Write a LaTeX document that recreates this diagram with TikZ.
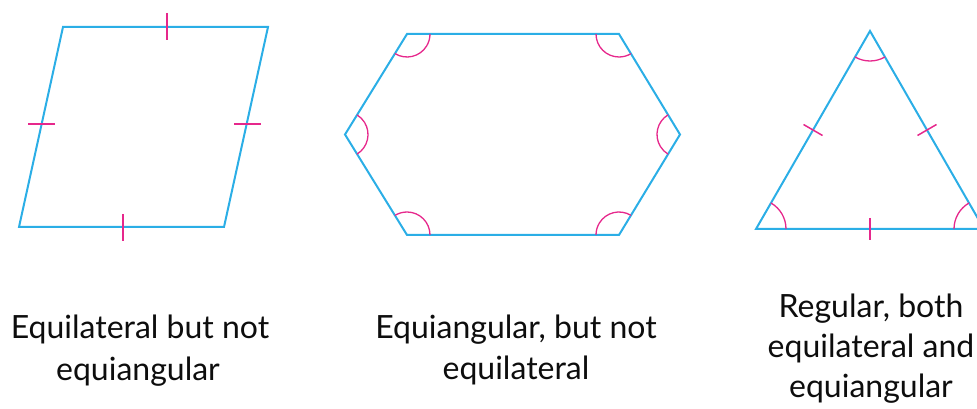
\documentclass[tikz,border=0pt]{standalone}
\usepackage{fontspec}
\setmainfont{Lato}
\definecolor{edgeblue}{RGB}{43,174,230}
\definecolor{markpink}{RGB}{230,40,140}
\tikzset{
  polyline/.style={draw=edgeblue, line width=2pt, line join=miter},
  tickmark/.style={draw=markpink, line width=1.5pt},
  anglemark/.style={draw=markpink, line width=1.3pt},
  lbl/.style={anchor=base, inner sep=0pt, font=\fontsize{32}{38}\selectfont, text=black!95}
}
\begin{document}
\begin{tikzpicture}[x=1pt,y=1pt]
\clip (0,0) rectangle (977,409);
\useasboundingbox (0,0) rectangle (977,409);
% parallelogram
\coordinate (p1) at (63,382);
\coordinate (p2) at (268,382);
\coordinate (p3) at (224,182);
\coordinate (p4) at (19,182);
\draw[polyline] (p1) -- (p2) -- (p3) -- (p4) -- cycle;
\coordinate (t1a) at (167,396); \coordinate (t1b) at (167,369);
\coordinate (t2a) at (123,195); \coordinate (t2b) at (123,168);
\coordinate (t3a) at (28,285);  \coordinate (t3b) at (55,285);
\coordinate (t4a) at (234,285); \coordinate (t4b) at (261,285);
\draw[tickmark] (t1a) -- (t1b);
\draw[tickmark] (t2a) -- (t2b);
\draw[tickmark] (t3a) -- (t3b);
\draw[tickmark] (t4a) -- (t4b);
% hexagon
\coordinate (hA) at (407,375);
\coordinate (hB) at (619,375);
\coordinate (hC) at (680,274.5);
\coordinate (hD) at (619,174);
\coordinate (hE) at (407,174);
\coordinate (hF) at (345,274.5);
\draw[polyline] (hA) -- (hB) -- (hC) -- (hD) -- (hE) -- (hF) -- cycle;
\draw[anglemark] (hA) ++(-121.7:23pt) arc[start angle=-121.7, end angle=0, radius=23pt];
\draw[anglemark] (hB) ++(180:23pt) arc[start angle=180, end angle=301.3, radius=23pt];
\draw[anglemark] (hC) ++(121.3:23pt) arc[start angle=121.3, end angle=238.7, radius=23pt];
\draw[anglemark] (hD) ++(58.7:23pt) arc[start angle=58.7, end angle=180, radius=23pt];
\draw[anglemark] (hE) ++(0:23pt) arc[start angle=0, end angle=121.7, radius=23pt];
\draw[anglemark] (hF) ++(-58.3:23pt) arc[start angle=-58.3, end angle=58.3, radius=23pt];
% triangle
\coordinate (tA) at (870,378);
\coordinate (tB) at (756,180);
\coordinate (tC) at (984,180);
\draw[polyline] (tA) -- (tB) -- (tC) -- cycle;
\draw[anglemark] (tB) ++(0:30pt) arc[start angle=0, end angle=60, radius=30pt];
\draw[anglemark] (tC) ++(120:30pt) arc[start angle=120, end angle=180, radius=30pt];
\draw[anglemark] (tA) ++(240:30pt) arc[start angle=240, end angle=300, radius=30pt];
\coordinate (m1a) at (803.5,284.5); \coordinate (m1b) at (822.5,273.5);
\coordinate (m2a) at (917.5,273.5); \coordinate (m2b) at (936.5,284.5);
\coordinate (m3a) at (870,191);     \coordinate (m3b) at (870,169);
\draw[tickmark] (m1a) -- (m1b);
\draw[tickmark] (m2a) -- (m2b);
\draw[tickmark] (m3a) -- (m3b);
% labels
\node[lbl] (l1a) at (140,70) {Equilateral but not};
\node[lbl] (l1b) at (138,28) {equiangular};
\node[lbl] (l2a) at (516,70) {Equiangular, but not};
\node[lbl] (l2b) at (516,29) {equilateral};
\node[lbl] (l3a) at (871,91) {Regular, both};
\node[lbl] (l3b) at (871,51) {equilateral and};
\node[lbl] (l3c) at (871,11) {equiangular};
\end{tikzpicture}
\end{document}
